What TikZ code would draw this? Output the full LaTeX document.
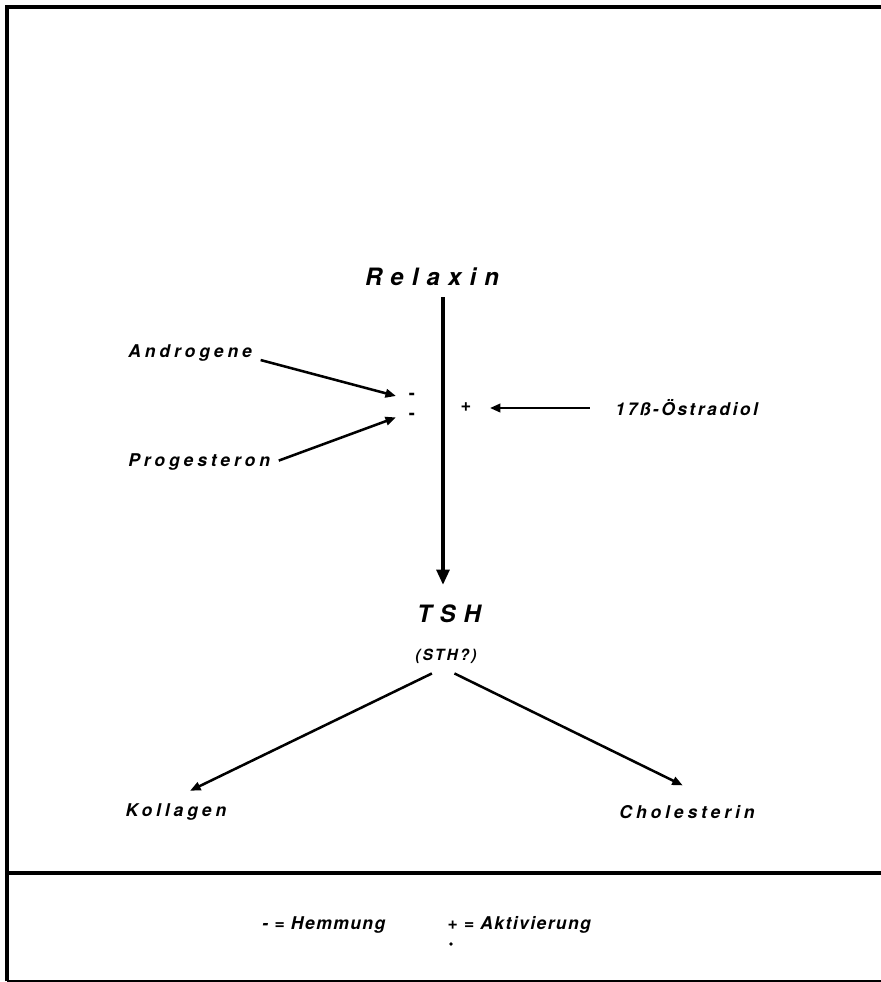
\documentclass[tikz,border=0pt]{standalone}
\usepackage{fontspec}
\setmainfont{TeX Gyre Heros}
\newfontfamily\widefont[LetterSpace=22]{TeX Gyre Heros}
\newfontfamily\widerfont[LetterSpace=34]{TeX Gyre Heros}
\newfontfamily\tightfont[LetterSpace=14]{TeX Gyre Heros}
\newfontfamily\legendfont[LetterSpace=8]{TeX Gyre Heros}
\usetikzlibrary{arrows.meta}
\usetikzlibrary{positioning}

\begin{document}
\begin{tikzpicture}[x=0.025cm, y=-0.025cm,
  lab/.style={inner sep=0pt, font=\widefont\bfseries\itshape\fontsize{12.5}{15}\selectfont},
  big/.style={inner sep=0pt, font=\widerfont\bfseries\itshape\fontsize{17}{20}\selectfont},
  small/.style={inner sep=0pt, font=\tightfont\bfseries\itshape\fontsize{11}{13}\selectfont},
  legend/.style={inner sep=0pt, font=\legendfont\bfseries\itshape\fontsize{12.5}{15}\selectfont},
  sign/.style={inner sep=0pt, font=\bfseries\fontsize{13}{14}\selectfont},
  arr/.style={-{Triangle[length=7.5pt,width=6pt]}, line width=1.8pt},
  mainarr/.style={-{Triangle[length=11pt,width=9pt]}, line width=3pt}]
\useasboundingbox (0,0) rectangle (881,982);

% frame
\draw[line width=2.2pt] (7,981) -- (7,7) -- (881,7);
\draw[line width=2.2pt] (7,873) -- (881,873);
\draw[line width=0.9pt] (7,981) -- (881,981);

% labels
\node[big] (relaxin) at (432,277) {Relaxin};
\node[big] (tsh) at (449,614) {TSH};
\node[small] (sth) at (446,656) {(STH?)};
\node[lab, anchor=west] (andro) at (128,353) {Androgene};
\node[lab, anchor=west] (proges) at (128,462) {Progesteron};
\node[lab, anchor=west, font=\tightfont\bfseries\itshape\fontsize{12.5}{15}\selectfont] (oestra) at (615,408) {17ß-Östradiol};
\node[lab] (kollagen) at (176,812) {Kollagen};
\node[lab] (chol) at (687,812) {Cholesterin};

% signs
\node[sign] (minusA) at (412,396) {-};
\node[sign] (minusB) at (412,416) {-};
\node[sign] (plus) at (466,407) {+};

% arrows
\coordinate (axtop) at (443,297);
\coordinate (axbot) at (443,585);
\draw[mainarr] (axtop) -- (axbot);
\draw[arr] ([xshift=6pt,yshift=-5pt]andro.east) -- ([xshift=-9pt]minusA.west);
\draw[arr] ([xshift=6pt,yshift=1pt]proges.east) -- ([xshift=-9pt,yshift=-1pt]minusB.west);
\draw[arr] ([xshift=-18pt]oestra.west) -- ([xshift=13pt]oestra.west -| plus.east);
\draw[arr] ([xshift=-10pt,yshift=-7pt]sth.south) -- ([xshift=10pt,yshift=9pt]kollagen.north);
\draw[arr] ([xshift=6pt,yshift=-7pt]sth.south) -- ([xshift=-3pt,yshift=14pt]chol.north);

% legend
\node[legend, anchor=west] (hemm) at (262,925) {- = Hemmung};
\node[legend, anchor=west] (aktiv) at (447,925) {+ = Aktivierung};
\fill (451,944) circle (1.4pt);
\end{tikzpicture}
\end{document}
